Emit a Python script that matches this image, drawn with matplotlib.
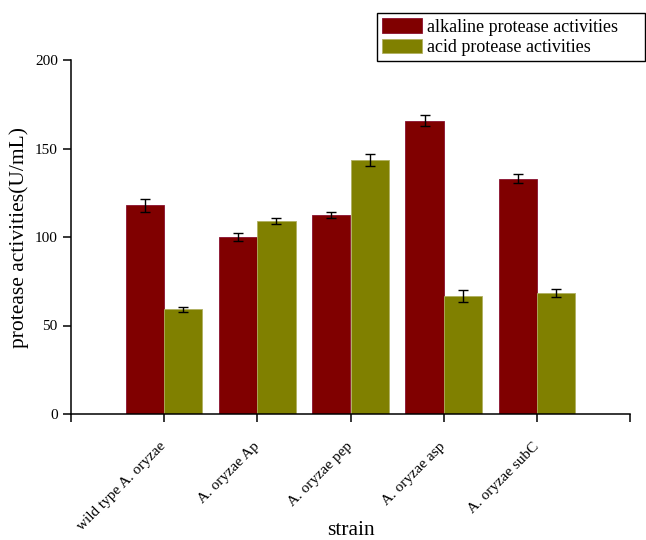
import matplotlib
matplotlib.use("Agg")
import matplotlib.pyplot as plt
import numpy as np

plt.rcParams['font.family'] = ['Liberation Serif', 'DejaVu Serif']

strains = ["wild type A. oryzae", "A. oryzae Ap", "A. oryzae pep", "A. oryzae asp", "A. oryzae subC"]
alkaline = [117.9, 100.2, 112.4, 165.7, 132.9]
alkaline_err = [3.7, 2.2, 1.9, 3.0, 2.5]
acid = [59.1, 109.2, 143.5, 66.8, 68.5]
acid_err = [1.3, 1.8, 3.2, 3.4, 2.3]

fig = plt.figure(figsize=(6.46, 5.40), dpi=100)
ax = fig.add_axes([71/646, 126/540, 559/646, 354/540])

x = np.arange(1, len(strains) + 1)
w = 0.41
err_style = dict(ecolor='black', elinewidth=1, capthick=1)
ax.bar(x - w/2, alkaline, w, color='#800000', edgecolor='#8a1030', linewidth=0.6,
       yerr=alkaline_err, capsize=3.5, error_kw=err_style,
       label='alkaline protease activities')
ax.bar(x + w/2, acid, w, color='#808000', edgecolor='#b0b060', linewidth=0.6,
       yerr=acid_err, capsize=3.5, error_kw=err_style,
       label='acid protease activities')

ax.set_xlim(0, 6)
ax.set_ylim(0, 200)
ax.spines['top'].set_visible(False)
ax.spines['right'].set_visible(False)
for s in ('left', 'bottom'):
    ax.spines[s].set_linewidth(1.1)
ax.set_yticks([0, 50, 100, 150, 200])
ax.set_xticks(range(0, 7))
ax.set_xticklabels([""] + strains + [""], rotation=45, ha='right', va='center',
                   rotation_mode='anchor')
ax.tick_params(axis='both', direction='out', length=6, width=1.1, labelsize=11)
ax.tick_params(axis='x', pad=16)
ax.set_ylabel("protease activities(U/mL)", fontsize=15.5, labelpad=4)
ax.set_xlabel("strain", fontsize=15.5, va='top')
ax.xaxis.set_label_coords(0.5, -0.302)

leg = fig.legend(loc='upper left', bbox_to_anchor=(377/646, 1 - 58/540, 268/646, 45/540),
                 mode='expand', fontsize=13,
                 frameon=True, fancybox=False, edgecolor='black', framealpha=1,
                 handlelength=2.2, handleheight=0.85, borderpad=0.3, labelspacing=0.15,
                 handletextpad=0.25, borderaxespad=0)
leg.get_frame().set_linewidth(1)

fig.savefig("out.png", dpi=100)
